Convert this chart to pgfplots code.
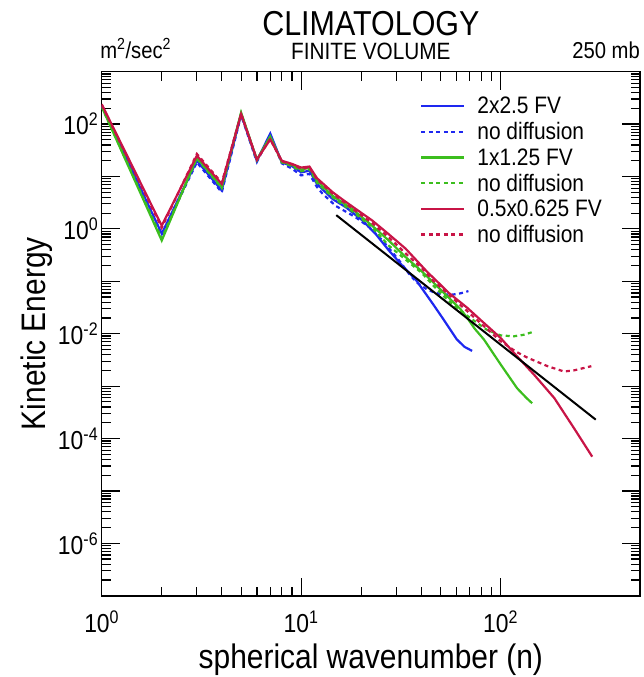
\documentclass[border=0pt]{standalone}
\usepackage{fontspec}
\setmainfont{Liberation Sans}[FakeStretch=0.88]
\usepackage{pgfplots}
\pgfplotsset{compat=1.18}

\definecolor{fvblue}{RGB}{30,40,240}
\definecolor{fvgreen}{RGB}{60,190,30}
\definecolor{fvred}{RGB}{200,20,70}

\tikzset{
  solidline/.style={line width=2.2pt},
  dotline/.style={line width=2.2pt, dash pattern=on 4pt off 3.5pt},
}

\begin{document}
\begin{tikzpicture}
\begin{loglogaxis}[
  scale only axis,
  width=538.3pt, height=524pt,
  xmin=1, xmax=500, ymin=1e-7, ymax=1e3,
  axis line style={line width=1.6pt},
  major tick length=18pt, minor tick length=9pt,
  every tick/.style={black, line width=1.2pt},
  xtick={1,10,100},
  xticklabels={10\textsuperscript{0},10\textsuperscript{1},10\textsuperscript{2}},
  ytick={1e-7,1e-6,1e-5,1e-4,1e-3,1e-2,1e-1,1,10,100,1000},
  yticklabels={,10\textsuperscript{-6},,10\textsuperscript{-4},,10\textsuperscript{-2},,10\textsuperscript{0},,10\textsuperscript{2},},
  tick label style={font=\fontsize{26}{28}\selectfont},
  xticklabel style={anchor=base, yshift=-37pt},
  xlabel={spherical wavenumber (n)},
  ylabel={Kinetic Energy},
  xlabel style={font=\fontsize{34}{36}\selectfont, at={(axis description cs:0.5,-0.138)}, anchor=base},
  ylabel style={font=\fontsize{34}{36}\selectfont, at={(axis description cs:-0.1053,0.5)}, anchor=base},
  legend style={at={(axis description cs:0.5913,0.9555)}, anchor=north west,
    draw=none, fill=none, inner sep=0pt, row sep=3.2pt,
    font=\fontsize{23.8}{26}\selectfont,
    nodes={inner sep=2pt},
    /tikz/every odd column/.append style={column sep=10pt}},
  legend cell align=left,
  legend image code/.code={\draw[#1] (0pt,0pt) -- (43pt,0pt);},
  clip mode=individual,
]

% 2x2.5 FV
\addplot[fvblue, solidline, forget plot] coordinates {
 (1,229) (2,0.81) (3,20) (4,5.4) (5,155) (6,20) (7,66) (8,18.6) (9,15.8)
 (10,12.0) (11,12.9) (12,7.2) (14.4,3.7) (16.8,2.57) (20.3,1.45) (23.7,0.79)
 (27.5,0.39) (32.1,0.20) (37.6,0.107) (46,0.036) (51.8,0.0186) (60.3,0.0078)
 (66,0.0056) (72,0.0047)
};
\addplot[fvblue, dotline, forget plot] coordinates {
 (1,219) (2,0.76) (3,18.6) (4,5.0) (5,148) (6,19) (7,62) (8,17.8) (9,14.1)
 (10,10.5) (11,11.2) (12,6.3) (12.8,4.7) (14.9,2.75) (18.8,1.66) (22,1.07)
 (25.6,0.60) (31,0.25) (34.8,0.138) (38,0.095) (42.5,0.071) (47,0.060)
 (52,0.056) (58,0.056) (63,0.059) (69,0.065)
};

% 1x1.25 FV
\addplot[fvgreen, solidline, forget plot] coordinates {
 (1,214) (2,0.60) (3,23) (4,6.3) (5,166) (6,21) (7,58) (8,19) (9,16.6)
 (10,13.5) (11,14.8) (12,8.3) (14.4,4.27) (18,2.4) (22.7,1.15) (27.5,0.60)
 (33.4,0.29) (40,0.158) (46,0.095) (54,0.052) (62.9,0.0295) (67.8,0.0204)
 (74,0.0126) (82.4,0.0078) (100,0.0026) (121,0.00091) (135,0.00059) (144,0.00047)
};
\addplot[fvgreen, dotline, forget plot] coordinates {
 (1,214) (2,0.66) (3,22) (4,6.0) (5,162) (6,20.4) (7,56) (8,18.6) (9,15.8)
 (10,12.6) (11,13.8) (12,7.6) (14.4,4.0) (18,2.19) (22.7,1.07) (27.5,0.48)
 (33.4,0.26) (40.5,0.141) (46,0.083) (55,0.042) (68,0.022) (85,0.012)
 (100,0.0093) (116,0.0089) (130,0.0095) (144,0.0107)
};

% 0.5x0.625 FV
\addplot[fvred, solidline, forget plot] coordinates {
 (1,240) (2,1.15) (3,25) (4,7.2) (5,155) (6,21) (7,51) (8,20) (9,17.4)
 (10,14.8) (11,15.5) (12,9.3) (14.4,5.0) (16.4,3.47) (18.8,2.4) (22.7,1.45)
 (27.5,0.79) (33.4,0.42) (43.6,0.141) (46,0.117) (55,0.060) (67.8,0.0316)
 (80,0.0178) (100,0.0083) (121,0.0037) (147,0.00166) (186,0.00059)
 (234,0.000155) (288,0.000045)
};
\addplot[fvred, dotline, forget plot] coordinates {
 (1,234) (2,1.05) (3,27) (4,7.6) (5,158) (6,21) (7,52) (8,19.5) (9,17)
 (10,14.1) (11,14.8) (12,8.9) (14.4,4.7) (18.8,2.19) (22.7,1.29) (27.5,0.69)
 (33.7,0.33) (40.5,0.174) (46,0.102) (68,0.027) (100,0.0072) (120,0.0045)
 (136,0.0035) (172,0.0024) (208,0.0019) (234,0.0020) (285,0.0024)
};

% n^{-3} reference slope
\addplot[black, line width=2pt, forget plot] coordinates {(15,1.83) (300,0.000229)};

\addlegendimage{fvblue, solidline}\addlegendentry{2x2.5 FV}
\addlegendimage{fvblue, dotline}\addlegendentry{no diffusion}
\addlegendimage{fvgreen, solidline}\addlegendentry{1x1.25 FV}
\addlegendimage{fvgreen, dotline}\addlegendentry{no diffusion}
\addlegendimage{fvred, solidline}\addlegendentry{0.5x0.625 FV}
\addlegendimage{fvred, dotline}\addlegendentry{no diffusion}

% headings
\node[font=\fontsize{34.6}{36}\selectfont, anchor=base, inner sep=0pt] at (axis description cs:0.5,1.070) {CLIMATOLOGY};
\node[font=\fontsize{23.6}{25}\selectfont, anchor=base, inner sep=0pt] at (axis description cs:0.5,1.024) {FINITE VOLUME};
\node[font=\fontsize{23}{25}\selectfont, anchor=base west, inner sep=0pt] at (axis description cs:-0.003,1.026) {m\textsuperscript{2}/sec\textsuperscript{2}};
\node[font=\fontsize{23}{25}\selectfont, anchor=base east, inner sep=0pt] at (axis description cs:1,1.026) {250 mb};
\end{loglogaxis}
\pgfresetboundingbox
\path (current axis.south west) ++(-101.7pt,-81.3pt) rectangle ++(644pt,677pt);
\end{tikzpicture}
\end{document}
